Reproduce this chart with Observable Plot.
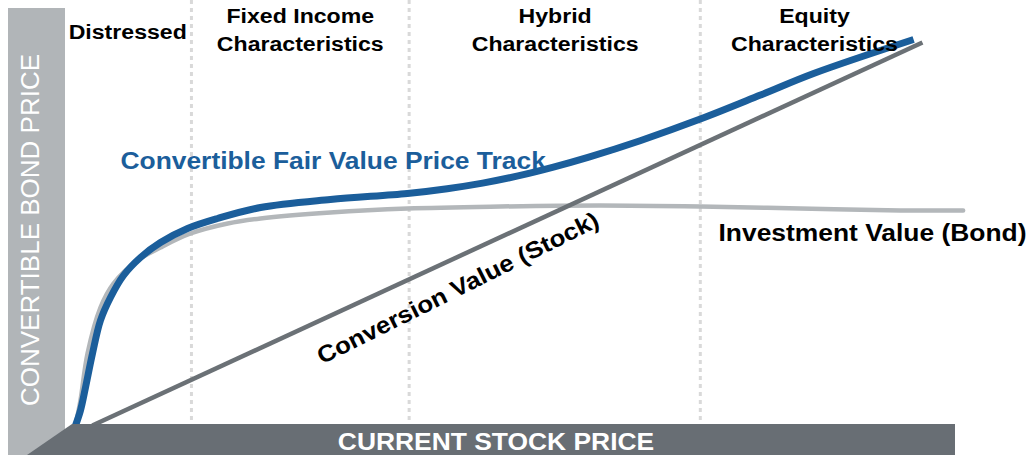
<!DOCTYPE html>
<html>
<head>
<meta charset="utf-8">
<script src="https://cdn.jsdelivr.net/npm/d3@7"></script>
<script src="https://cdn.jsdelivr.net/npm/@observablehq/plot@0.6"></script>
<style>
  html, body { margin: 0; padding: 0; background: #fff; }
  #wrap { position: relative; width: 1032px; height: 455px; overflow: hidden; font-family: "Liberation Sans", Arial, sans-serif; }
  #chart { position: absolute; left: 0; top: 0; }
  #ybar { position: absolute; left: 8px; top: 8px; width: 57px; height: 447px; background: #b1b5b8; }
  #ylab { position: absolute; left: 30px; top: 230px; transform: translate(-50%, -50%) rotate(-90deg);
          white-space: nowrap; color: #fff; font-size: 26px; line-height: 26px; font-weight: normal; }
  #xbar { position: absolute; left: 27px; top: 424px; width: 928px; height: 31px; background: #686e74;
          clip-path: polygon(0 100%, 45px 0, 100% 0, 100% 100%); }
  #xlab { position: absolute; left: 496px; top: 442px; transform: translate(-50%, -50%) scaleX(1.1);
          white-space: nowrap; color: #fff; font-size: 24px; line-height: 24px; font-weight: bold; }
</style>
</head>
<body>
<div id="wrap">
  <div id="chart"></div>
  <div id="ybar"></div>
  <div id="ylab">CONVERTIBLE BOND PRICE</div>
  <div id="xbar"></div>
  <div id="xlab">CURRENT STOCK PRICE</div>
</div>
<script>
// Convertible fair value price track (stock price -> bond price)
const fairX = [0, 0.56, 1.13, 1.92, 2.82, 3.95, 5.42, 7.34, 9.6, 12.66, 16.05, 20.9, 28.8, 37.5, 42, 46, 50, 54, 58, 63.8, 70.6, 77.4, 83.4, 94.7];
const fairY = [0, 3.75, 9.5, 18, 26.25, 32, 37.5, 42, 45.75, 49.25, 51.75, 54.5, 56.5, 58, 59.2, 60.6, 62.4, 64.6, 67.1, 71.2, 76.6, 82.6, 88, 96.5];

// Investment value (bond floor)
const bondX = [0, 0.56, 1.36, 2.82, 4.29, 7.0, 9.6, 13.0, 17.2, 20.9, 28.8, 37.5, 48.0, 59.3, 70.6, 81.9, 93.2, 100.3];
const bondY = [0, 6.25, 18, 29.5, 35.5, 41.25, 44.5, 48, 50.5, 51.75, 53.25, 54.25, 54.75, 55, 54.75, 54.25, 53.75, 53.75];

// Conversion value (stock)
const convX = [1.9, 95.7];
const convY = [0, 95.75];

// Regions
const regionBounds = [13.1, 37.7, 70.6];
const regionLabels = ["Distressed", "Fixed Income\nCharacteristics", "Hybrid\nCharacteristics", "Equity\nCharacteristics"];
const regionLabelX = [5.9, 25.4, 54.2, 83.5];
const regionLabelY = [96.75, 93.75, 93.75, 93.75];

// Series labels
const seriesLabels = ["Convertible Fair Value Price Track", "Investment Value (Bond)", "Conversion Value (Stock)"];
const seriesLabelX = [5.08, 72.66, 43.6];
const seriesLabelY = [64.25, 46.25, 32.6];

const fair = fairX.map((x, i) => ({x, y: fairY[i]}));
const bond = bondX.map((x, i) => ({x, y: bondY[i]}));
const conv = convX.map((x, i) => ({x, y: convY[i]}));
const regions = regionLabels.map((t, i) => ({t, x: regionLabelX[i], y: regionLabelY[i]}));
const sl = seriesLabels.map((t, i) => ({t, x: seriesLabelX[i], y: seriesLabelY[i]}));

const font = "'Liberation Sans', Arial, sans-serif";

const svg = Plot.plot({
  width: 1032,
  height: 455,
  marginLeft: 75,
  marginRight: 72,
  marginTop: 0,
  marginBottom: 30,
  x: {domain: [0, 100], axis: null},
  y: {domain: [0, 106.25], axis: null},
  style: {background: "white", overflow: "visible"},
  marks: [
    Plot.ruleX(regionBounds, {stroke: "#d9d9d9", strokeWidth: 3, strokeDasharray: "4,4"}),
    Plot.line(bond, {x: "x", y: "y", stroke: "#b3b7ba", strokeWidth: 4.5, curve: "catmull-rom"}),
    Plot.line(conv, {x: "x", y: "y", stroke: "#6b7176", strokeWidth: 4.5, strokeLinecap: "butt"}),
    Plot.line(fair, {x: "x", y: "y", stroke: "#1b5e9b", strokeWidth: 7, curve: "catmull-rom", strokeLinecap: "butt"}),
    Plot.text(regions, {x: "x", y: "y", text: "t", lineAnchor: "bottom", textAnchor: "middle", lineHeight: 1.33,
      fontSize: 21, fontWeight: "bold", fontFamily: font, fill: "#000"}),
    Plot.text(sl.slice(0, 1), {x: "x", y: "y", text: "t", lineAnchor: "bottom", textAnchor: "start",
      fontSize: 24, fontWeight: "bold", fontFamily: font, fill: "#1b5e9b"}),
    Plot.text(sl.slice(1, 2), {x: "x", y: "y", text: "t", lineAnchor: "bottom", textAnchor: "start",
      fontSize: 24, fontWeight: "bold", fontFamily: font, fill: "#000"}),
    Plot.text(sl.slice(2, 3), {x: "x", y: "y", text: "t", lineAnchor: "bottom", textAnchor: "middle", rotate: -26.5,
      fontSize: 23.5, fontWeight: "bold", fontFamily: font, fill: "#000"})
  ]
});

// slight horizontal widening of the bold labels to match the reference lettering
svg.querySelectorAll('g[aria-label="text"] text').forEach((t) => {
  const tr = t.getAttribute("transform");
  if (tr) t.setAttribute("transform", tr + " scale(1.1,1)");
});

document.getElementById("chart").appendChild(svg);
</script>
</body>
</html>
